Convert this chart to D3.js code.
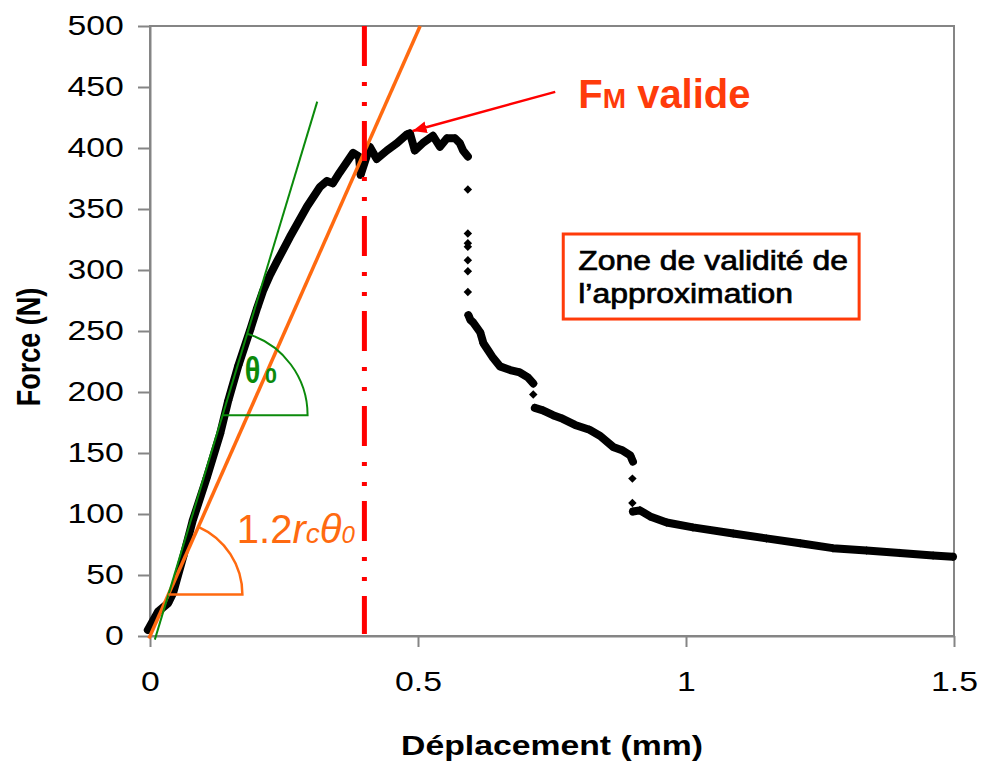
<!DOCTYPE html>
<html>
<head>
<meta charset="utf-8">
<script src="https://cdn.jsdelivr.net/npm/d3@7"></script>
<style>
  body { margin: 0; background: #fff; }
  svg  { display: block; font-family: 'Liberation Sans', Arial, sans-serif; }
</style>
</head>
<body>
<svg id="chart" width="982" height="767"></svg>
<script>
'use strict';

// ---- data: [displacement (mm), force (N)] ----

// loading + plateau (dense markers)
const riseCurve = [
  [-0.004, 5], [0.015, 20], [0.034, 27], [0.043, 35], [0.062, 65], [0.08, 95],
  [0.106, 130], [0.131, 166], [0.146, 193], [0.165, 222], [0.187, 251], [0.2, 269],
  [0.211, 283], [0.224, 296], [0.237, 307], [0.261, 327], [0.293, 352], [0.317, 368],
  [0.33, 373], [0.341, 371], [0.354, 380], [0.379, 396], [0.39, 393], [0.393, 378],
  [0.41, 401], [0.423, 391], [0.442, 398], [0.461, 404], [0.479, 411], [0.485, 412],
  [0.494, 398], [0.509, 404], [0.528, 410], [0.541, 401], [0.554, 408], [0.569, 408],
  [0.578, 404], [0.584, 398], [0.593, 393]
];
// first load drop (isolated markers)
const dropA = [[0.593, 366], [0.593, 330], [0.593, 322], [0.593, 319], [0.593, 308], [0.593, 299], [0.593, 282]];
// post-peak softening
const midCurve = [
  [0.594, 263], [0.598, 259], [0.603, 257], [0.616, 249], [0.622, 240], [0.631, 234],
  [0.64, 228], [0.653, 221], [0.672, 218], [0.69, 216], [0.705, 212], [0.715, 207]
];
const dropB = [[0.715, 198]];
const lowCurve = [
  [0.718, 187], [0.733, 185], [0.752, 181], [0.77, 178], [0.793, 173], [0.82, 169],
  [0.84, 164], [0.864, 155], [0.882, 152], [0.896, 148], [0.901, 143]
];
const dropC = [[0.9, 129], [0.9, 109]];
const tailCurve = [
  [0.901, 102], [0.914, 103], [0.933, 98], [0.964, 93], [1.013, 89], [1.088, 84],
  [1.15, 80], [1.213, 76], [1.274, 72], [1.337, 70], [1.399, 68], [1.461, 66], [1.498, 65]
];

// construction lines (end points)
const slopeInit    = [[0.009, -3], [0.312, 438]];   // initial stiffness θ0
const slopeReduced = [[-0.002, -2], [0.504, 500]];  // 1.2 rc θ0
const xLimit = 0.4;

// axes
const xTicks = [0, 0.5, 1, 1.5];
const yTicks = [0, 50, 100, 150, 200, 250, 300, 350, 400, 450, 500];

// ---- layout ----
const margin = { top: 26, right: 28, bottom: 131, left: 150 },
      W = 982, H = 767,
      axisColor = '#858585',
      sx = 1.25;   // the original chart text is stretched horizontally

const svg = d3.select('#chart');

const x = d3.scaleLinear().domain([0, 1.5]).range([margin.left, W - margin.right]),
      y = d3.scaleLinear().domain([0, 500]).range([H - margin.bottom, margin.top]);

// frame
svg.append('rect')
    .attr('x', x(0)).attr('y', y(500))
    .attr('width', x(1.5) - x(0)).attr('height', y(0) - y(500))
    .attr('fill', 'none').attr('stroke', axisColor).attr('stroke-width', 2);

const styleAxis = g => {
  g.attr('font-family', null).attr('font-size', null);
  g.select('.domain').attr('stroke', axisColor).attr('stroke-width', 2);
  g.selectAll('.tick line').attr('stroke', axisColor).attr('stroke-width', 2);
  g.selectAll('.tick text')
      .attr('fill', '#000').attr('font-size', 27)
      .attr('transform', `scale(${sx},1)`);
};

// y-axis
svg.append('g')
    .attr('transform', `translate(${x(0)},0)`)
    .call(d3.axisLeft(y).tickValues(yTicks).tickSize(12).tickPadding(9).tickSizeOuter(0))
    .call(styleAxis);

// x-axis
svg.append('g')
    .attr('transform', `translate(0,${y(0)})`)
    .call(d3.axisBottom(x).tickValues(xTicks).tickFormat(d3.format('')).tickSize(11).tickPadding(25).tickSizeOuter(0))
    .call(styleAxis);

// axis titles
svg.append('text')
    .attr('transform', `translate(552,755) scale(${sx},1)`)
    .attr('text-anchor', 'middle')
    .attr('font-weight', 'bold').attr('font-size', 27)
    .text('Déplacement (mm)');

svg.append('text')
    .attr('transform', `translate(40,${(y(0) + y(500)) / 2 + 16}) scale(${sx},1) rotate(-90)`)
    .attr('text-anchor', 'middle')
    .attr('font-weight', 'bold').attr('font-size', 27)
    .text('Force (N)');

// ---- measured points ----
const dense = [riseCurve, midCurve, lowCurve, tailCurve],
      loose = [dropA, dropB, dropC];

const line = d3.line().x(d => x(d[0])).y(d => y(d[1]));

svg.append('g')
    .attr('class', 'bands')
  .selectAll('path')
    .data(dense)
  .enter().append('path')
    .attr('d', line)
    .attr('fill', 'none').attr('stroke', '#000')
    .attr('stroke-width', 8).attr('stroke-linejoin', 'round').attr('stroke-linecap', 'round');

const diamond = d3.symbol(d3.symbolSquare, 36);
svg.append('g')
    .attr('class', 'points')
  .selectAll('path')
    .data(dense.concat(loose).flat())
  .enter().append('path')
    .attr('d', diamond)
    .attr('transform', d => `translate(${x(d[0])},${y(d[1])}) rotate(45)`)
    .attr('fill', '#000');

// ---- construction lines ----
const green = '#0b8a0b', orange = '#ff6a10', red = '#ff0000', redOrange = '#ff3b0a';

svg.append('path')
    .attr('d', line(slopeReduced))
    .attr('stroke', orange).attr('stroke-width', 3.5).attr('fill', 'none');

svg.append('path')
    .attr('d', line(slopeInit))
    .attr('stroke', green).attr('stroke-width', 2).attr('fill', 'none');

// angle arcs: centre on the line at force cF, radius r (px)
function angleArc(pts, cF, r) {
  const p0 = [x(pts[0][0]), y(pts[0][1])],
        p1 = [x(pts[1][0]), y(pts[1][1])],
        cy = y(cF),
        cx = p0[0] + (cy - p0[1]) / (p1[1] - p0[1]) * (p1[0] - p0[0]),
        a  = Math.atan2(p0[1] - p1[1], p1[0] - p0[0]);
  return `M${cx},${cy} H${cx + r} A${r},${r} 0 0 0 ${cx + r * Math.cos(a)},${cy - r * Math.sin(a)}`;
}

svg.append('path')
    .attr('d', angleArc(slopeInit, 181, 85))
    .attr('stroke', green).attr('stroke-width', 2).attr('fill', 'none');

svg.append('path')
    .attr('d', angleArc(slopeReduced, 34, 74))
    .attr('stroke', orange).attr('stroke-width', 2.5).attr('fill', 'none');

// validity limit
svg.append('line')
    .attr('x1', x(xLimit)).attr('x2', x(xLimit))
    .attr('y1', y(500)).attr('y2', y(0) - 2)
    .attr('stroke', red).attr('stroke-width', 5)
    .attr('stroke-dasharray', '40 16 4 16 4 15');

// ---- annotations ----
// θ0
svg.append('text')
    .attr('transform', `translate(${x(0.177)},${y(207)}) scale(0.78,1)`)
    .attr('fill', green).attr('font-weight', 'bold').attr('font-size', 37)
    .text('θ');
svg.append('text')
    .attr('x', x(0.214)).attr('y', y(207))
    .attr('fill', green).attr('font-weight', 'bold').attr('font-size', 22)
    .text('0');

// 1.2 rc θ0
const lab = svg.append('text')
    .attr('x', x(0.162)).attr('y', y(76))
    .attr('fill', orange).attr('font-size', 40);
lab.append('tspan').text('1.2');
lab.append('tspan').attr('font-style', 'italic').text('r');
lab.append('tspan').attr('font-style', 'italic').attr('font-size', 28).text('c');
lab.append('tspan').attr('font-style', 'italic').text('θ');
lab.append('tspan').attr('font-style', 'italic').attr('font-size', 24).text('0');

// FM valide + arrow
svg.append('defs').append('marker')
    .attr('id', 'head')
    .attr('markerUnits', 'userSpaceOnUse')
    .attr('markerWidth', 16).attr('markerHeight', 12)
    .attr('refX', 14).attr('refY', 6)
    .attr('orient', 'auto')
  .append('path')
    .attr('d', 'M0,0 L14,6 L0,12 Z')
    .attr('fill', red);

svg.append('line')
    .attr('x1', x(0.756)).attr('y1', y(446))
    .attr('x2', x(0.49)).attr('y2', y(414))
    .attr('stroke', red).attr('stroke-width', 2.5)
    .attr('marker-end', 'url(#head)');

const fm = svg.append('text')
    .attr('x', x(0.799)).attr('y', y(433))
    .attr('fill', redOrange).attr('font-weight', 'bold').attr('font-size', 40);
fm.append('tspan').text('F');
fm.append('tspan').attr('font-size', 28).text('M');
fm.append('tspan').text(' valide');

// validity zone box
svg.append('rect')
    .attr('x', x(0.771)).attr('y', y(329.5))
    .attr('width', x(1.323) - x(0.771)).attr('height', y(259.8) - y(329.5))
    .attr('fill', '#fff').attr('stroke', redOrange).attr('stroke-width', 3);

svg.selectAll('.zone')
    .data(['Zone de validité de', 'l’approximation'])
  .enter().append('text')
    .attr('class', 'zone')
    .attr('transform', (d, i) => `translate(${x(0.799)},${y(300) + i * 33}) scale(1.14,1)`)
    .attr('fill', '#000').attr('stroke', '#000').attr('stroke-width', 0.7)
    .attr('font-size', 28)
    .text(d => d);
</script>
</body>
</html>
